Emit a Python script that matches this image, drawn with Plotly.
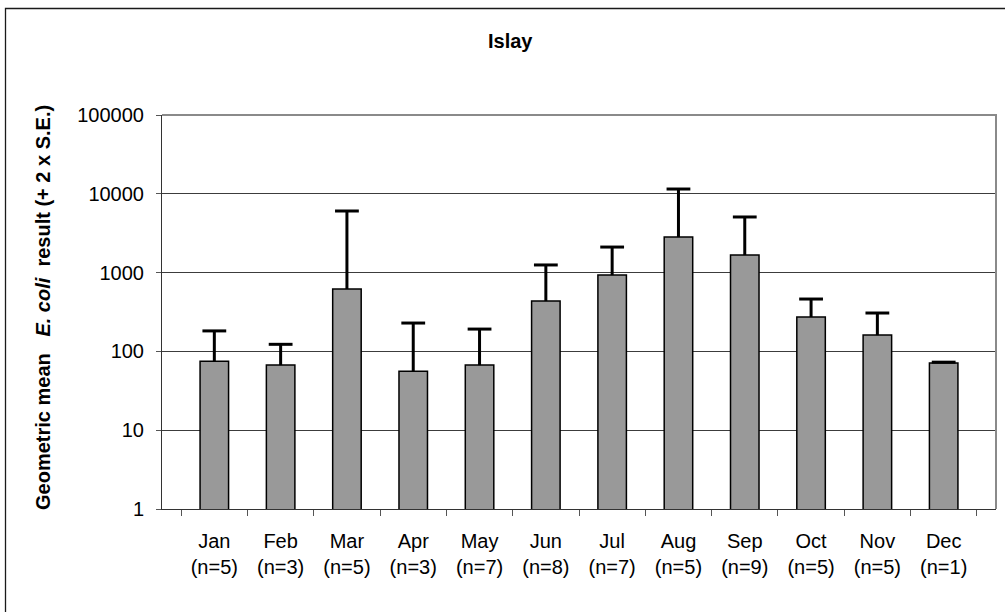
import plotly.graph_objects as go

# Monthly geometric mean E. coli results at Islay, with upper limit (mean + 2 x S.E.)
months = ["Jan", "Feb", "Mar", "Apr", "May", "Jun", "Jul", "Aug", "Sep", "Oct", "Nov", "Dec"]
n_samples = [5, 3, 5, 3, 7, 8, 7, 5, 9, 5, 5, 1]
geo_mean = [75, 67, 620, 56, 67, 435, 930, 2830, 1670, 273, 161, 71]
upper_2se = [182, 123, 6050, 229, 192, 1250, 2110, 11500, 5080, 462, 307, 73]

y_tick_vals = [1, 10, 100, 1000, 10000, 100000]
y_tick_text = ["1", "10", "100", "1000", "10000", "100000"]

tick_text = [f"{m}<br>({'n=' + str(k)})" for m, k in zip(months, n_samples)]
err_plus = [u - g for u, g in zip(upper_2se, geo_mean)]

W, H = 1005, 612
ML, MR, MT, MB = 162, 9, 115, 103
PW, PH = W - ML - MR, H - MT - MB


def px_x(x):
    return (x - ML) / PW


def px_y(y):
    return (H - MB - y) / PH


FONT = "Liberation Sans, Arial, sans-serif"

fig = go.Figure()

fig.add_trace(go.Bar(
    x=months,
    y=geo_mean,
    marker=dict(color="#999999", line=dict(color="#000000", width=1.5)),
    error_y=dict(
        type="data",
        symmetric=False,
        array=err_plus,
        arrayminus=[0] * len(months),
        color="#000000",
        thickness=3,
        width=0,
    ),
    showlegend=False,
    hoverinfo="skip",
))

# caps on top of the error bars
fig.add_trace(go.Scatter(
    x=months,
    y=upper_2se,
    mode="markers",
    marker=dict(symbol="line-ew", size=17, line=dict(color="#000000", width=3)),
    showlegend=False,
    hoverinfo="skip",
))

fig.update_layout(
    width=W,
    height=H,
    margin=dict(l=ML, r=MR, t=MT, b=MB, pad=0),
    paper_bgcolor="white",
    plot_bgcolor="white",
    bargap=0.57,
    font=dict(family=FONT, size=20, color="#000000"),
    xaxis=dict(
        type="category",
        tickmode="array",
        tickvals=months,
        ticktext=tick_text,
        tickson="boundaries",
        ticks="outside",
        ticklen=6,
        tickcolor="#555555",
        ticklabelstandoff=14,
        showline=True,
        linecolor="#333333",
        linewidth=1,
        showgrid=False,
        zeroline=False,
        tickfont=dict(family=FONT, size=20, color="#000000"),
    ),
    yaxis=dict(
        type="log",
        range=[0, 5],
        tickmode="array",
        tickvals=y_tick_vals,
        ticktext=y_tick_text,
        ticks="outside",
        ticklen=5,
        tickcolor="#555555",
        ticklabelstandoff=8,
        showline=True,
        linecolor="#333333",
        linewidth=1,
        showgrid=True,
        gridcolor="#3c3c3c",
        gridwidth=1,
        zeroline=False,
        tickfont=dict(family=FONT, size=20, color="#000000"),
    ),
    annotations=[
        dict(
            text="<b>Islay</b>",
            xref="paper", yref="paper",
            x=px_x(510), y=px_y(41),
            xanchor="center", yanchor="middle",
            showarrow=False,
            font=dict(family=FONT, size=20, color="#000000"),
        ),
        dict(
            text="<b>Geometric mean   <i>E. coli</i>  result (+ 2 x S.E.)</b>",
            xref="paper", yref="paper",
            x=px_x(43), y=px_y(308),
            xanchor="center", yanchor="middle",
            textangle=-90,
            showarrow=False,
            font=dict(family=FONT, size=20, color="#000000"),
        ),
    ],
    shapes=[
        # plot-area frame on the top and right edges
        dict(
            type="path", xref="paper", yref="paper",
            path="M 0,1 L 1,1 L 1,0",
            line=dict(color="#8a8a8a", width=2),
            layer="above",
        ),
        # outer chart frame
        dict(
            type="rect", xref="paper", yref="paper",
            x0=px_x(5.5), x1=px_x(1012),
            y0=px_y(8.5), y1=px_y(625),
            line=dict(color="#1a1a1a", width=1.3),
            fillcolor="rgba(0,0,0,0)",
            layer="above",
        ),
    ],
)

fig.write_html("out.html")
